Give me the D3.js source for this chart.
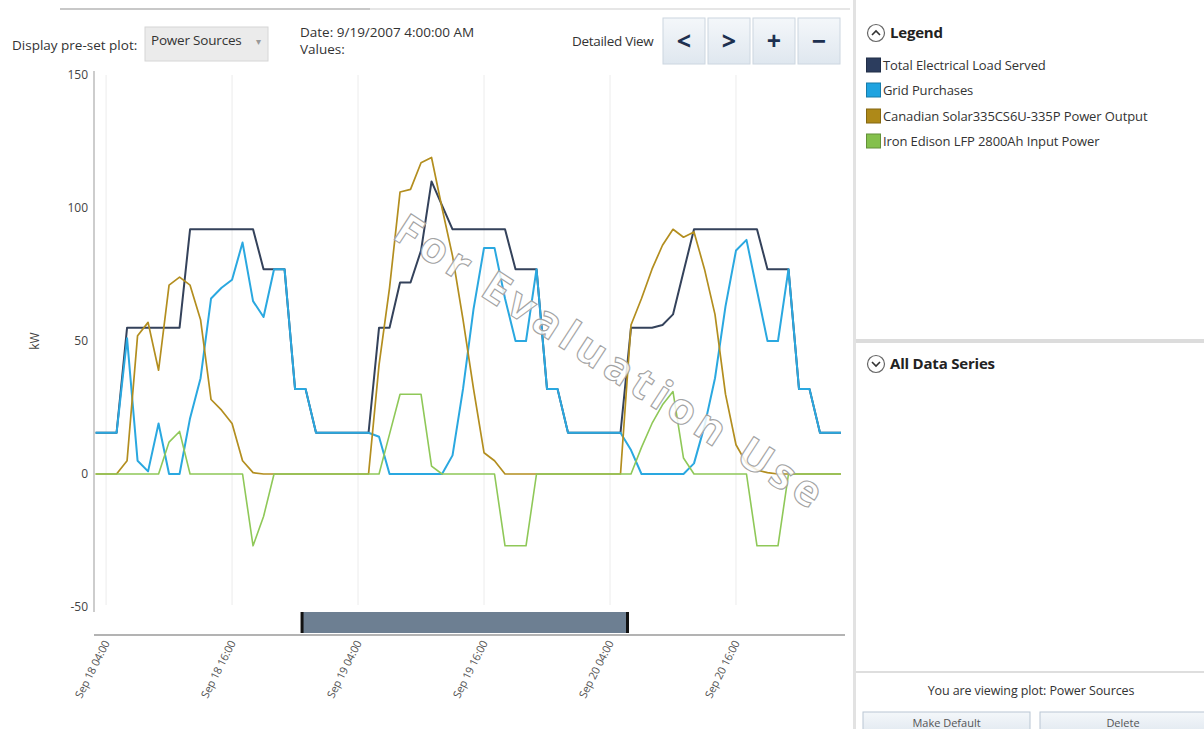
<!DOCTYPE html>
<html>
<head>
<meta charset="utf-8">
<script src="https://cdn.jsdelivr.net/npm/d3@7"></script>
<style>
  html, body { margin: 0; padding: 0; background: #fff; }
  svg { display: block; font-family: "Open Sans", "Noto Sans", sans-serif; }
</style>
</head>
<body>
<svg id="chart" width="1204" height="729"></svg>
<script>
// ---------- DATA (hourly, starting Sep 18 2007 03:00) ----------
const seriesNames = [
  "Total Electrical Load Served",
  "Grid Purchases",
  "Canadian Solar335CS6U-335P Power Output",
  "Iron Edison LFP 2800Ah Input Power"
];
const seriesColors = ["#34425b", "#2aa8e0", "#b38e1f", "#8fc858"];
const legendColors = ["#2c3d5e", "#1fa3e0", "#ae8918", "#84c04c"];

const loadServed = [
  15.5, 15.5, 15.5, 55, 55, 55, 55, 55, 55, 92, 92, 92, 92, 92, 92, 92, 77, 77, 77, 32, 32,
  15.5, 15.5, 15.5, 15.5, 15.5, 15.5, 55, 55, 72, 72, 84, 110, 101, 92, 92, 92, 92, 92, 92, 77, 77, 77, 32, 32,
  15.5, 15.5, 15.5, 15.5, 15.5, 15.5, 55, 55, 55, 56, 60, 76, 92, 92, 92, 92, 92, 92, 92, 77, 77, 77, 32, 32,
  15.5, 15.5, 15.5
];
const gridPurchases = [
  15.5, 15.5, 15.5, 51, 5, 1, 19, 0, 0, 21, 36, 66, 70, 73, 87, 65, 59, 77, 77, 32, 32,
  15.5, 15.5, 15.5, 15.5, 15.5, 15.5, 14, 0, 0, 0, 0, 0, 0, 7, 32, 62, 85, 85, 66, 50, 50, 77, 32, 32,
  15.5, 15.5, 15.5, 15.5, 15.5, 15.5, 9, 0, 0, 0, 0, 0, 4, 18, 36, 63, 84, 88, 69, 50, 50, 77, 32, 32,
  15.5, 15.5, 15.5
];
const solarOutput = [
  0, 0, 0, 5, 52, 57, 39, 71, 74, 71, 58, 28, 24, 19, 5, 0.5, 0, 0, 0, 0, 0,
  0, 0, 0, 0, 0, 0, 41, 70, 106, 107, 117, 119, 100, 82, 58, 32, 8, 5, 0, 0, 0, 0, 0, 0,
  0, 0, 0, 0, 0, 0, 56, 66, 77, 86, 92, 89, 91, 77, 60, 30, 11, 4, 1.5, 0.5, 0, 0, 0, 0,
  0, 0, 0
];
const batteryInput = [
  0, 0, 0, 0, 0, 0, 0, 12, 16, 0, 0, 0, 0, 0, 0, -27, -16, 0, 0, 0, 0,
  0, 0, 0, 0, 0, 0, 0, 15, 30, 30, 30, 3, 0, 0, 0, 0, 0, 0, -27, -27, -27, 0, 0, 0,
  0, 0, 0, 0, 0, 0, 0, 10, 19, 26, 31, 6, 0, 0, 0, 0, 0, 0, -27, -27, -27, 0, 0, 0,
  0, 0, 0
];
const allSeries = [loadServed, gridPurchases, solarOutput, batteryInput];

const startTime = Date.UTC(2007, 8, 18, 3, 0);
const times = d3.utcHour.range(new Date(startTime), new Date(startTime + loadServed.length * 3600e3));

const yTicks = [-50, 0, 50, 100, 150];
const xTickTimes = [
  Date.UTC(2007, 8, 18, 4), Date.UTC(2007, 8, 18, 16),
  Date.UTC(2007, 8, 19, 4), Date.UTC(2007, 8, 19, 16),
  Date.UTC(2007, 8, 20, 4), Date.UTC(2007, 8, 20, 16)
];
const xTickLabels = ["Sep 18 04:00", "Sep 18 16:00", "Sep 19 04:00", "Sep 19 16:00", "Sep 20 04:00", "Sep 20 16:00"];
const rangeWindow = [Date.UTC(2007, 8, 18, 22, 40), Date.UTC(2007, 8, 20, 5, 40)];

// ---------- SCALES ----------
const svg = d3.select("#chart");
const x = d3.scaleUtc()
  .domain([new Date(Date.UTC(2007, 8, 18, 2, 51)), new Date(Date.UTC(2007, 8, 21, 2, 23))])
  .range([94, 845]);
const y = d3.scaleLinear().domain([-50, 150]).range([607, 75]);

// ---------- TOP TOOLBAR ----------
svg.append("line").attr("x1", 60).attr("x2", 850).attr("y1", 9).attr("y2", 9)
  .attr("stroke", "#e6e6e6").attr("stroke-width", 2);
svg.append("line").attr("x1", 60).attr("x2", 370).attr("y1", 9).attr("y2", 9)
  .attr("stroke", "#c8c8c8").attr("stroke-width", 2);

svg.append("text").attr("x", 12).attr("y", 50).attr("font-size", 13.5).attr("fill", "#333")
  .text("Display pre-set plot:");
svg.append("rect").attr("x", 145).attr("y", 27).attr("width", 123).attr("height", 34)
  .attr("fill", "#ebebeb").attr("stroke", "#d6d6d6");
svg.append("text").attr("x", 151).attr("y", 45).attr("font-size", 13.5).attr("fill", "#333")
  .attr("letter-spacing", "-0.2").text("Power Sources");
svg.append("text").attr("x", 256).attr("y", 45).attr("font-size", 10).attr("fill", "#999").text("▾");
svg.append("text").attr("x", 300).attr("y", 37).attr("font-size", 13.5).attr("fill", "#333")
  .text("Date:  9/19/2007 4:00:00 AM");
svg.append("text").attr("x", 300).attr("y", 54).attr("font-size", 13.5).attr("fill", "#333")
  .text("Values:");
svg.append("text").attr("x", 572).attr("y", 46).attr("font-size", 13.5).attr("fill", "#333")
  .attr("letter-spacing", "-0.3").text("Detailed View");

const defs = svg.append("defs");
const g1 = defs.append("linearGradient").attr("id", "btnGrad").attr("x1", 0).attr("x2", 0).attr("y1", 0).attr("y2", 1);
g1.append("stop").attr("offset", "0%").attr("stop-color", "#f4f7fa");
g1.append("stop").attr("offset", "100%").attr("stop-color", "#dfe7ef");

const navButtons = ["<", ">", "+", "\u2212"];
navButtons.forEach((s, i) => {
  const bx = 663 + i * 45;
  svg.append("rect").attr("x", bx).attr("y", 18).attr("width", 42).attr("height", 46)
    .attr("fill", "url(#btnGrad)").attr("stroke", "#ccd6e0");
  svg.append("text").attr("x", bx + 21).attr("y", 50).attr("text-anchor", "middle")
    .attr("font-size", 25).attr("font-weight", "bold").attr("fill", "#1d3050").text(s);
});

// ---------- CHART ----------
// vertical gridlines
svg.append("g").selectAll("line").data(xTickTimes).join("line")
  .attr("x1", d => x(new Date(d))).attr("x2", d => x(new Date(d)))
  .attr("y1", 75).attr("y2", 605)
  .attr("stroke", "#ececec").attr("stroke-width", 1);

// y axis
const yAxis = svg.append("g").attr("transform", "translate(94,0)")
  .call(d3.axisLeft(y).tickValues(yTicks).tickSize(0).tickPadding(6).tickFormat(d => String(d)));
yAxis.select(".domain").attr("stroke", "#bdbdbd").attr("stroke-width", 1.5)
  .attr("d", "M0,71V612");
yAxis.selectAll("text").attr("font-size", 12).attr("fill", "#444")
  .attr("font-family", "'Open Sans', sans-serif");

svg.append("text").attr("transform", "translate(39,341) rotate(-90)")
  .attr("text-anchor", "middle").attr("font-size", 12).attr("fill", "#444").text("kW");

// range bar
const rb = svg.append("g");
rb.append("rect").attr("x", x(new Date(rangeWindow[0]))).attr("y", 612)
  .attr("width", x(new Date(rangeWindow[1])) - x(new Date(rangeWindow[0]))).attr("height", 21)
  .attr("fill", "#6d7f92");
rangeWindow.forEach(t => {
  rb.append("rect").attr("x", x(new Date(t)) - 1.5).attr("y", 612).attr("width", 3).attr("height", 21)
    .attr("fill", "#111");
});

// x axis line
svg.append("line").attr("x1", 94).attr("x2", 845).attr("y1", 635).attr("y2", 635)
  .attr("stroke", "#9a9a9a").attr("stroke-width", 1.5);

// x tick labels
svg.append("g").selectAll("text").data(xTickTimes).join("text")
  .attr("transform", d => `translate(${x(new Date(d)) + 4},${643}) rotate(-63)`)
  .attr("text-anchor", "end").attr("font-size", 11).attr("fill", "#555")
  .attr("letter-spacing", "-0.2")
  .text((d, i) => xTickLabels[i]);

// series lines
const line = d3.line().x((d, i) => x(times[i])).y(d => y(d));
const widths = [2, 2, 1.7, 1.6];
allSeries.forEach((s, k) => {
  svg.append("path").datum(s).attr("d", line)
    .attr("fill", "none").attr("stroke", seriesColors[k]).attr("stroke-width", widths[k])
    .attr("stroke-linejoin", "round");
});

// watermark
svg.append("text")
  .attr("transform", "translate(607,364) rotate(33)")
  .attr("text-anchor", "middle").attr("dominant-baseline", "middle")
  .attr("font-size", 43).attr("font-weight", "bold").attr("font-family", "'Open Sans', sans-serif")
  .attr("textLength", 500).attr("lengthAdjust", "spacing")
  .attr("fill", "#ffffff").attr("fill-opacity", 0.85)
  .attr("stroke", "#a3a3a3").attr("stroke-width", 1.1)
  .text("For Evaluation Use");

// ---------- RIGHT PANEL ----------
svg.append("rect").attr("x", 853).attr("y", 0).attr("width", 3).attr("height", 729).attr("fill", "#e2e2e2");

function chevronHeader(cy, up, label) {
  svg.append("circle").attr("cx", 876).attr("cy", cy).attr("r", 8.5)
    .attr("fill", "none").attr("stroke", "#666").attr("stroke-width", 1.2);
  const d = up ? `M872,${cy + 2} L876,${cy - 2} L880,${cy + 2}` : `M872,${cy - 2} L876,${cy + 2} L880,${cy - 2}`;
  svg.append("path").attr("d", d).attr("fill", "none").attr("stroke", "#333").attr("stroke-width", 1.6);
  svg.append("text").attr("x", 890).attr("y", cy + 5).attr("font-size", 15).attr("font-weight", "bold")
    .attr("fill", "#222").attr("letter-spacing", "-0.2").text(label);
}
chevronHeader(33, true, "Legend");

const legendRowY = [65, 90, 116, 141];
seriesNames.forEach((name, i) => {
  svg.append("rect").attr("x", 866.5).attr("y", legendRowY[i] - 7).attr("width", 14).attr("height", 14)
    .attr("fill", legendColors[i]).attr("stroke", d3.color(legendColors[i]).darker(0.8));
  svg.append("text").attr("x", 883).attr("y", legendRowY[i] + 4.5).attr("font-size", 13)
    .attr("fill", "#333").attr("letter-spacing", "-0.1").text(name);
});

svg.append("rect").attr("x", 856).attr("y", 339).attr("width", 348).attr("height", 4).attr("fill", "#dcdcdc");
chevronHeader(364, false, "All Data Series");

svg.append("line").attr("x1", 856).attr("x2", 1204).attr("y1", 672).attr("y2", 672)
  .attr("stroke", "#dedede").attr("stroke-width", 2);
svg.append("text").attr("x", 1031).attr("y", 695).attr("text-anchor", "middle")
  .attr("font-size", 12.5).attr("fill", "#333").attr("letter-spacing", "-0.1")
  .text("You are viewing plot:  Power Sources");

[["Make Default", 863, 167], ["Delete", 1040, 166]].forEach(([lbl, bx, bw]) => {
  svg.append("rect").attr("x", bx).attr("y", 712).attr("width", bw).attr("height", 24)
    .attr("fill", "url(#btnGrad)").attr("stroke", "#b9c6d3");
  svg.append("text").attr("x", bx + bw / 2).attr("y", 727).attr("text-anchor", "middle")
    .attr("font-size", 11).attr("fill", "#555").text(lbl);
});
</script>
</body>
</html>
